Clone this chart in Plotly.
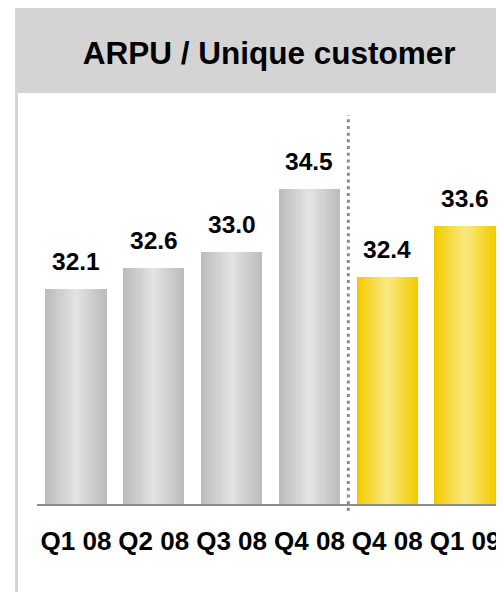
import plotly.graph_objects as go

# ---- data ----
categories = ["Q1 08", "Q2 08", "Q3 08", "Q4 08", "Q4 08", "Q1 09"]
values = [32.1, 32.6, 33.0, 34.5, 32.4, 33.6]
is_new = [False, False, False, False, True, True]   # yellow group
title_text = "ARPU / Unique customer"

# ---- style ----
W, H = 496, 584
ML, MR, MT, MB = 29, 0, 92, 88
y_min, px_per_unit = 26.96, 41.8
plot_w = W - ML - MR
plot_h = H - MT - MB
y_max = y_min + plot_h / px_per_unit
bar_w = 0.79
N_LAYERS = 14
grey_edge, grey_center = (188, 188, 188), (226, 226, 226)
yel_edge, yel_center = (242, 204, 0), (249, 231, 128)
FONT = "Liberation Sans, Arial, sans-serif"


def mix(a, b, t):
    return "rgb(%d,%d,%d)" % tuple(round(a[i] + (b[i] - a[i]) * t) for i in range(3))


xs = list(range(len(categories)))
fig = go.Figure()

# gradient bars: overlaid layers, narrower + lighter toward centre
for k in range(N_LAYERS):
    t = k / (N_LAYERS - 1)
    width = bar_w * (1 - k / N_LAYERS)
    colors = [mix(yel_edge, yel_center, t) if n else mix(grey_edge, grey_center, t) for n in is_new]
    fig.add_trace(go.Bar(
        x=xs, y=values, width=[width] * len(xs),
        marker=dict(color=colors, line=dict(width=0)),
        hoverinfo="skip", showlegend=False,
    ))

# value labels
for x, v in zip(xs, values):
    fig.add_annotation(
        x=x, y=v, xref="x", yref="y", text="%.1f" % v, showarrow=False,
        yanchor="bottom", yshift=12,
        font=dict(family=FONT, size=24.5, color="black", weight="bold"),
    )

# divider between groups
split = is_new.index(True) - 0.5
fig.add_shape(type="line", xref="x", yref="paper", x0=split, x1=split,
              y0=-0.017, y1=0.963,
              line=dict(color="#8a8a8a", width=3, dash="3px,3.7px"))

# header band and left border
hdr_bottom = (plot_h + MT - 85) / plot_h
fig.add_shape(type="rect", xref="paper", yref="paper", layer="below",
              x0=(7 - ML) / plot_w, x1=1.02,
              y0=hdr_bottom, y1=1.3,
              fillcolor="#d4d4d4", line=dict(width=0))
fig.add_shape(type="rect", xref="paper", yref="paper", layer="below",
              x0=(7 - ML) / plot_w, x1=(10 - ML) / plot_w,
              y0=-0.3, y1=hdr_bottom,
              fillcolor="#d4d4d4", line=dict(width=0))

fig.update_layout(
    width=W, height=H,
    margin=dict(l=ML, r=MR, t=MT, b=MB),
    paper_bgcolor="white", plot_bgcolor="white",
    barmode="overlay", bargap=0,
    title=dict(text=title_text, x=0.497, xref="paper", xanchor="center",
               y=1 - 44.8 / H, yref="container", yanchor="middle",
               font=dict(family=FONT, size=31.5, color="black", weight="bold")),
    xaxis=dict(range=[-0.5, len(xs) - 0.5], tickvals=xs, ticktext=categories,
               showgrid=False, zeroline=False, showline=True,
               linecolor="#8c8c8c", linewidth=2, ticks="",
               ticklabelstandoff=13,
               tickfont=dict(family=FONT, size=26, color="black", weight="bold")),
    yaxis=dict(range=[y_min, y_max], visible=False, showgrid=False),
)

fig.write_html("out.html")
